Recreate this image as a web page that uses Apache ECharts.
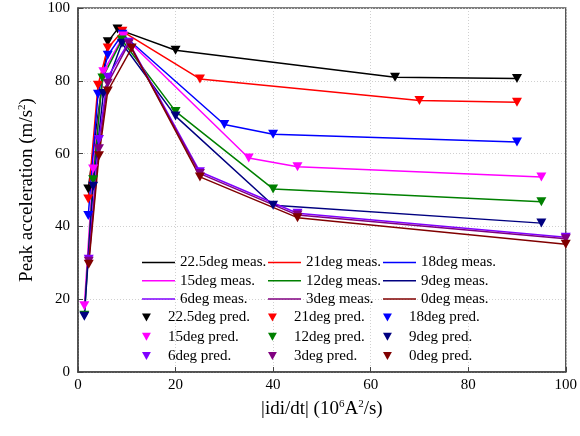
<!DOCTYPE html>
<html>
<head>
<meta charset="utf-8">
<script src="https://cdn.jsdelivr.net/npm/echarts@6/dist/echarts.min.js"></script>
<style>html,body{margin:0;padding:0;background:#fff}#c{width:580px;height:436px}</style>
</head>
<body>
<div id="c"></div>
<script>
// Data
const names = ["22.5deg", "21deg", "18deg", "15deg", "12deg", "9deg", "6deg", "3deg", "0deg"];
const x22_5 = [2.1, 6.1, 8.1, 20, 65, 90];
const y22_5 = [50.3, 90.7, 94.2, 88.4, 81.0, 80.6];
const x21 = [2.1, 4.1, 6.1, 9.1, 25, 70, 90];
const y21 = [47.5, 78.8, 89.0, 93.6, 80.5, 74.6, 74.1];
const x18 = [2.1, 4.1, 6.1, 9.1, 30, 40, 90];
const y18 = [43.0, 76.3, 87.0, 92.8, 68.0, 65.3, 63.2];
const x15 = [1.3, 3.1, 5.2, 9.3, 35, 45, 95];
const y15 = [18.2, 55.8, 82.5, 92.3, 58.8, 56.4, 53.6];
const x12 = [1.3, 3.1, 5.0, 9.0, 20, 40, 95];
const y12 = [15.6, 52.8, 80.8, 91.2, 71.6, 50.3, 46.8];
const x9 = [1.3, 3.1, 5.2, 9.0, 20, 40, 95];
const y9 = [15.3, 51.0, 76.5, 90.3, 70.3, 45.8, 40.9];
const x6 = [2.2, 4.3, 6.1, 10.4, 25, 45, 100];
const y6 = [31.0, 63.9, 81.0, 90.6, 55.0, 43.6, 37.0];
const x3 = [2.2, 4.3, 6.1, 10.4, 25, 45, 100];
const y3 = [30.4, 61.3, 79.3, 90.2, 54.5, 43.1, 36.6];
const x0 = [2.2, 4.3, 6.1, 11.0, 25, 45, 100];
const y0 = [29.6, 59.4, 77.2, 89.0, 53.6, 42.4, 35.1];
const xTicks = [0, 20, 40, 60, 80, 100];
const yTicks = [0, 20, 40, 60, 80, 100];

const xs = [x22_5, x21, x18, x15, x12, x9, x6, x3, x0];
const ys = [y22_5, y21, y18, y15, y12, y9, y6, y3, y0];
const colors = ["#000000", "#ff0000", "#0000ff", "#ff00ff", "#008000", "#000080", "#8000ff", "#800080", "#800000"];

const FONT = "Liberation Serif";
const tri = 'path://M0,0L10,0L5,9Z';
const lineIcon = 'path://M0,0L33,0L33,1.5L0,1.5Z';

const pairs = (xa, ya) => xa.map((v, i) => [v, ya[i]]);

const series = [];
names.forEach((n, i) => {
  series.push({
    name: n + " meas.", type: "line", data: pairs(xs[i], ys[i]),
    symbol: "none", color: colors[i],
    lineStyle: {width: 1.5, color: colors[i]}, z: 2, animation: false
  });
});
names.forEach((n, i) => {
  series.push({
    name: n + " pred.", type: "scatter", data: pairs(xs[i], ys[i]),
    symbol: tri, symbolSize: [10, 9], color: colors[i],
    itemStyle: {color: colors[i], opacity: 1}, z: 3, animation: false
  });
});

function legendCol(left, top, items, isPred) {
  return {
    left: left, top: top, orient: "vertical", padding: 0,
    itemWidth: 33, itemHeight: isPred ? 8 : 14, itemGap: isPred ? 4.2 : 3.3,
    symbolKeepAspect: true,
    data: items.map(n => isPred ? {name: n} : {name: n, icon: lineIcon}),
    textStyle: {fontFamily: FONT, fontSize: 15, color: "#000", lineHeight: 14, padding: [0, 0, 0, 0]},
    selectedMode: false
  };
}
const col = (idx, suffix) => idx.map(k => names[k] + suffix);

const option = {
  backgroundColor: "#fff",
  animation: false,
  grid: {left: 78, right: 10, top: 8, bottom: 64, show: true, borderColor: "#555", borderWidth: 1.5, backgroundColor: "transparent"},
  xAxis: {
    type: "value", min: 0, max: 100, interval: 20,
    name: "|idi/dt| (10{sup|6}A{sup|2}/s)", nameLocation: "middle", nameGap: 27,
    nameTextStyle: {fontFamily: FONT, fontSize: 19, color: "#000", lineHeight: 20,
      rich: {sup: {fontFamily: FONT, fontSize: 11, verticalAlign: "top", lineHeight: 11, color: "#000"}}},
    axisLine: {lineStyle: {color: "#444", width: 1.5}},
    axisTick: {inside: true, length: 5, lineStyle: {color: "#444"}},
    axisLabel: {fontFamily: FONT, fontSize: 15, color: "#000", margin: 6,
      formatter: v => xTicks.includes(v) ? String(v) : ""},
    splitLine: {show: true, lineStyle: {color: "#d0d0d0", type: [1, 2], width: 1}}
  },
  yAxis: {
    type: "value", min: 0, max: 100, interval: 20,
    name: "Peak acceleration (m/s{sup|2})", nameLocation: "middle", nameGap: 36,
    nameTextStyle: {fontFamily: FONT, fontSize: 19, color: "#000", lineHeight: 20,
      rich: {sup: {fontFamily: FONT, fontSize: 11, verticalAlign: "top", lineHeight: 11, color: "#000"}}},
    axisLine: {show: true, lineStyle: {color: "#444", width: 1.5}},
    axisTick: {show: true, inside: true, length: 5, lineStyle: {color: "#444"}},
    axisLabel: {fontFamily: FONT, fontSize: 15, color: "#000", margin: 8,
      formatter: v => yTicks.includes(v) ? String(v) : ""},
    splitLine: {show: true, lineStyle: {color: "#d0d0d0", type: [1, 2], width: 1}}
  },
  legend: [
    legendCol(142, 255, col([0, 3, 6], " meas."), false),
    legendCol(268, 255, col([1, 4, 7], " meas."), false),
    legendCol(383, 255, col([2, 5, 8], " meas."), false),
    legendCol(142, 310, col([0, 3, 6], " pred."), true),
    legendCol(268, 310, col([1, 4, 7], " pred."), true),
    legendCol(383, 310, col([2, 5, 8], " pred."), true)
  ],
  series: series
};

const chart = echarts.init(document.getElementById("c"), null, {renderer: "canvas"});
chart.setOption(option);
</script>
</body>
</html>
